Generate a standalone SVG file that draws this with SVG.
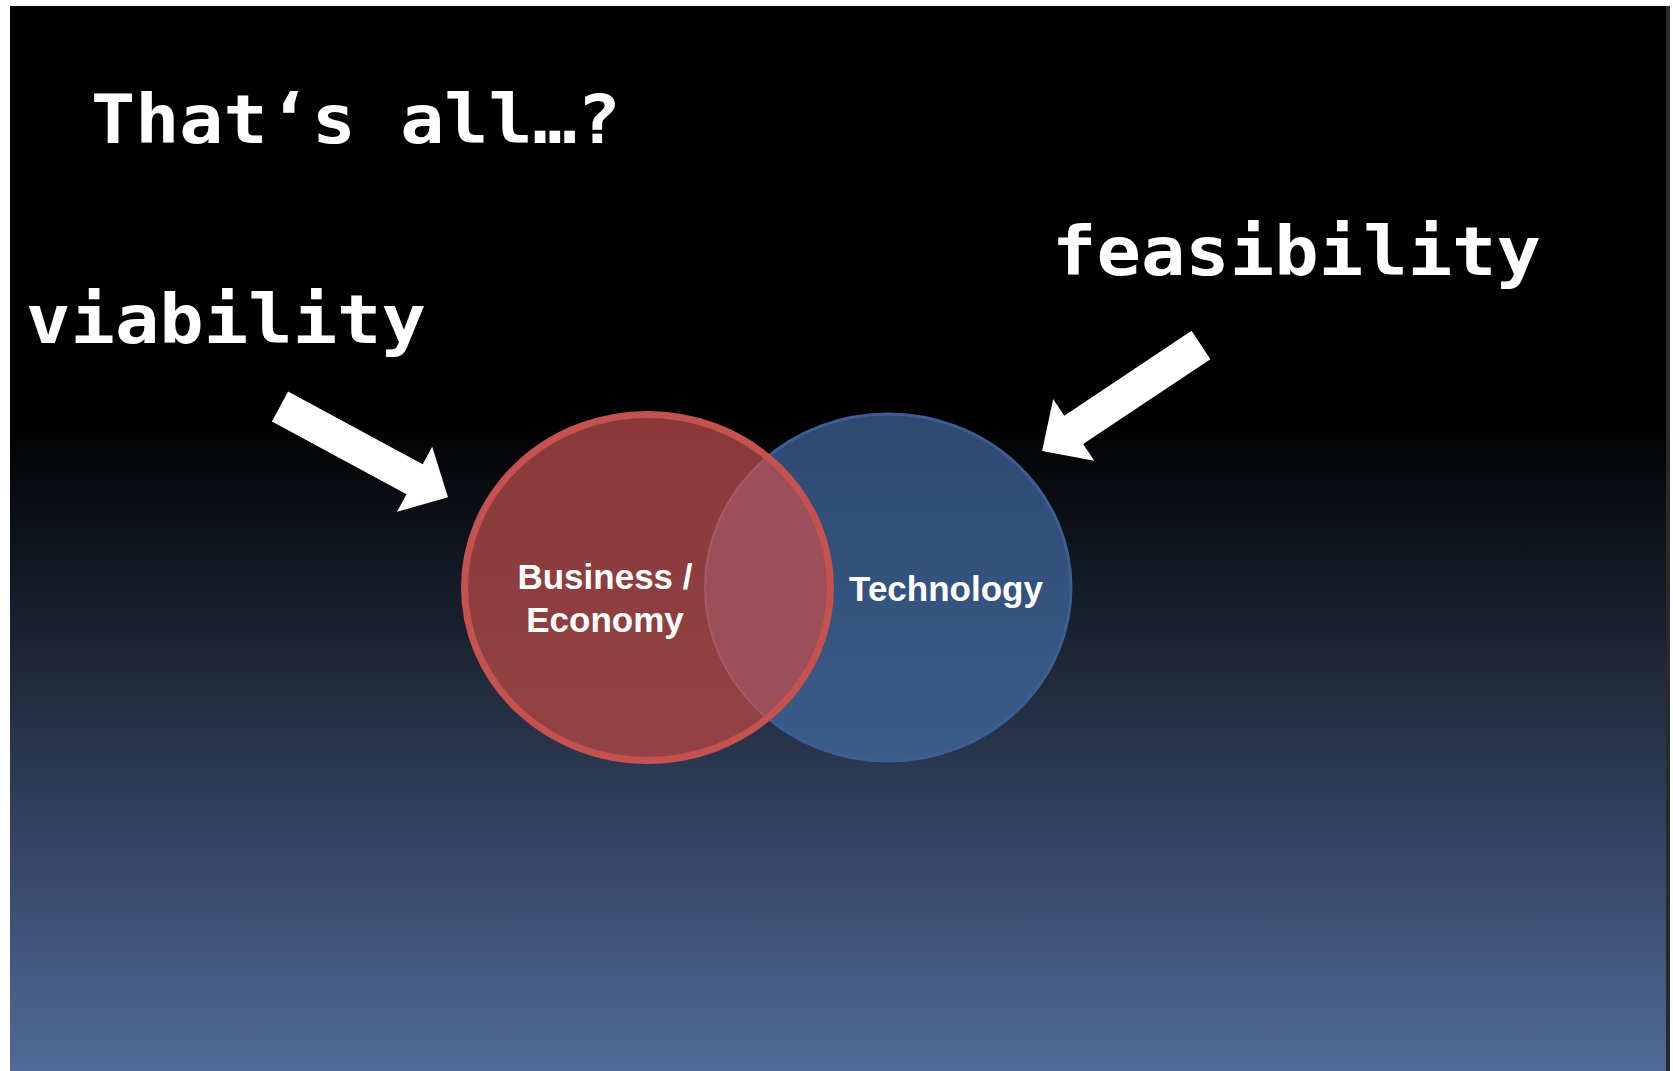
<svg xmlns="http://www.w3.org/2000/svg" width="1673" height="1071" viewBox="0 0 1673 1071">
  <defs>
    <linearGradient id="slideBg" gradientUnits="userSpaceOnUse" x1="0" y1="6" x2="0" y2="1071">
      <stop offset="0" stop-color="#000000"/>
      <stop offset="0.39" stop-color="#000000"/>
      <stop offset="1" stop-color="#506a99"/>
    </linearGradient>
    <linearGradient id="blueFill" x1="0" y1="0" x2="0" y2="1">
      <stop offset="0" stop-color="#2e4a73"/>
      <stop offset="1" stop-color="#3b5b89"/>
    </linearGradient>
    <linearGradient id="redFill" x1="0" y1="0" x2="0" y2="1">
      <stop offset="0" stop-color="#8a3838"/>
      <stop offset="1" stop-color="#934345"/>
    </linearGradient>
    <clipPath id="redClip">
      <ellipse cx="647.5" cy="587.5" rx="183" ry="173"/>
    </clipPath>
    <!-- block arrow pointing along +x, tail at origin -->
    <polygon id="blockArrow" points="0,-17 153,-17 153,-37 191,0 153,37 153,17 0,17"/>
    <style>
      .title { font-family: "DejaVu Sans Mono", "Liberation Mono", monospace; font-weight: bold; font-size: 67px; fill: #ffffff; }
      .label { font-family: "Liberation Sans", Arial, sans-serif; font-weight: bold; font-size: 35px; fill: #ffffff; text-anchor: middle; }
      .arrow { fill: #ffffff; }
    </style>
  </defs>

  <!-- page and slide background -->
  <rect x="0" y="0" width="1673" height="1071" fill="#ffffff"/>
  <rect x="10" y="6" width="1660" height="1065" fill="#2a2a2a"/>
  <rect x="10" y="6" width="1656" height="1065" fill="url(#slideBg)"/>

  <!-- headings -->
  <text class="title" x="91" y="143" textLength="530" lengthAdjust="spacingAndGlyphs">That‘s all…?</text>
  <text class="title" x="26" y="343" textLength="400" lengthAdjust="spacingAndGlyphs">viability</text>
  <text class="title" x="1052" y="275" textLength="489" lengthAdjust="spacingAndGlyphs">feasibility</text>

  <!-- connectors: pointing arrows -->
  <g id="connectors">
    <use href="#blockArrow" class="arrow" transform="translate(280,406.5) rotate(28.4)"/>
    <use href="#blockArrow" class="arrow" transform="translate(1201,345) rotate(146.3)"/>
  </g>

  <!-- Venn: technology -->
  <g id="technology">
    <ellipse cx="888" cy="587.5" rx="183" ry="173.5" fill="url(#blueFill)" stroke="#3e5e92" stroke-width="3"/>
  </g>

  <!-- Venn: business / economy -->
  <g id="business">
    <ellipse cx="647.5" cy="587.5" rx="183" ry="173" fill="url(#redFill)"/>
    <!-- overlap lens -->
    <ellipse cx="888" cy="587.5" rx="183" ry="173.5" fill="#9a4f59" clip-path="url(#redClip)"/>
    <ellipse cx="888" cy="587.5" rx="183" ry="173.5" fill="none" stroke="#a35b65" stroke-width="2" clip-path="url(#redClip)"/>
    <ellipse cx="647.5" cy="587.5" rx="183" ry="173" fill="none" stroke="#c5524e" stroke-width="7"/>
  </g>

  <!-- Venn labels -->
  <text class="label" x="605" y="589">Business /</text>
  <text class="label" x="605" y="632">Economy</text>
  <text class="label" x="946" y="601">Technology</text>
</svg>
